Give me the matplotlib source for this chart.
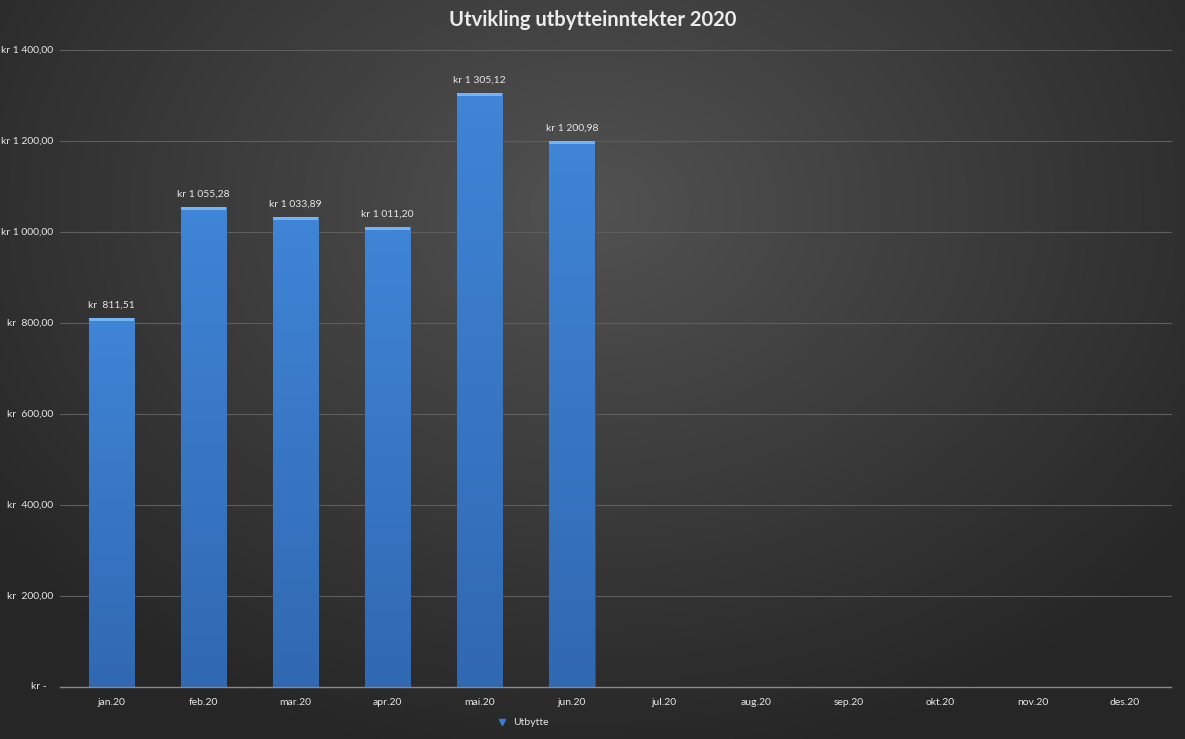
import numpy as np
import matplotlib.pyplot as plt
from matplotlib.patches import Rectangle

# data
maaneder = ['jan.20', 'feb.20', 'mar.20', 'apr.20', 'mai.20', 'jun.20',
            'jul.20', 'aug.20', 'sep.20', 'okt.20', 'nov.20', 'des.20']
utbytte = [811.51, 1055.28, 1033.89, 1011.20, 1305.12, 1200.98]
etiketter = ['kr  811,51', 'kr 1 055,28', 'kr 1 033,89', 'kr 1 011,20',
             'kr 1 305,12', 'kr 1 200,98']
y_ticks = [0, 200, 400, 600, 800, 1000, 1200, 1400]
y_tall = ['kr -', 'kr  200,00', 'kr  400,00', 'kr  600,00', 'kr  800,00',
          'kr 1 000,00', 'kr 1 200,00', 'kr 1 400,00']

plt.rcParams['font.family'] = ['Lato', 'DejaVu Sans']
txt = '#e6e6e6'

fig = plt.figure(figsize=(11.85, 7.39), dpi=100)

# bakgrunn med radial gradient
bg = fig.add_axes([0, 0, 1, 1], zorder=-10)
yy, xx = np.mgrid[0:1:300j, 0:1:480j]
r = np.sqrt(((xx - 0.5) / 0.75) ** 2 + ((yy - 0.28) / 0.9) ** 2)
val = np.clip(0.32 - 0.2 * r, 0.15, 0.32)
bg.imshow(np.dstack([val, val, val]), aspect='auto', extent=[0, 1, 0, 1], origin='upper')
bg.axis('off')

ax = fig.add_axes([0.0549, 0.0704, 0.9333, 0.8619])
ax.set_facecolor('none')
x = np.arange(len(maaneder))

for y in y_ticks[1:]:
    ax.axhline(y, xmin=-0.005, color='#5e5e5e', lw=0.8, zorder=0, clip_on=False)
ax.axhline(0, xmin=-0.005, color='#8a8a8a', lw=1.0, zorder=3, clip_on=False)

grad = np.linspace(0, 1, 100).reshape(-1, 1)
w = 0.49
for i, v in enumerate(utbytte):
    bars = ax.bar(x[i], v, width=w, color='#3b7dd6', edgecolor='#24508c', lw=0.8, zorder=2)
    im = ax.imshow(np.dstack([0.19 + 0.06 * grad, 0.41 + 0.11 * grad, 0.70 + 0.14 * grad]),
                   extent=[x[i] - w / 2, x[i] + w / 2, 0, v], aspect='auto',
                   origin='lower', zorder=2)
    im.set_clip_path(bars[0])
    # lys kant paa toppen
    ax.add_patch(Rectangle((x[i] - w / 2, v - 7), w, 7, color='#74b4f2', lw=0, zorder=2.5))
    ax.text(x[i], v + 18, etiketter[i], ha='center', va='bottom', color=txt, fontsize=7.5)

ax.set_xlim(-0.5, len(maaneder) - 0.5)
ax.set_ylim(0, 1400)
ax.set_xticks(x)
ax.set_xticklabels(maaneder, color=txt, fontsize=7.5)
ax.tick_params(axis='x', length=0, pad=8)
ax.set_yticks([])
for s in ax.spines.values():
    s.set_visible(False)

# y-etiketter i regnskapsformat
for y, t in zip(y_ticks, y_tall):
    xr = -0.0165 if y == 0 else -0.0105
    ax.text(xr, y, t, transform=ax.get_yaxis_transform(), ha='right', va='center',
            color=txt, fontsize=7.5)

fig.text(0.5, 0.973, 'Utvikling utbytteinntekter 2020', ha='center', va='center',
         color='#ececec', fontsize=14.5, fontweight='bold')

fig.legend(handles=[plt.Line2D([], [], marker='v', ls='none', color='#3b7dd6', markersize=5)],
           labels=['Utbytte'], loc='center', bbox_to_anchor=(0.439, 0.022), frameon=False,
           labelcolor=txt, fontsize=7.5, handletextpad=0.0)

fig.savefig('out.png', dpi=100)
